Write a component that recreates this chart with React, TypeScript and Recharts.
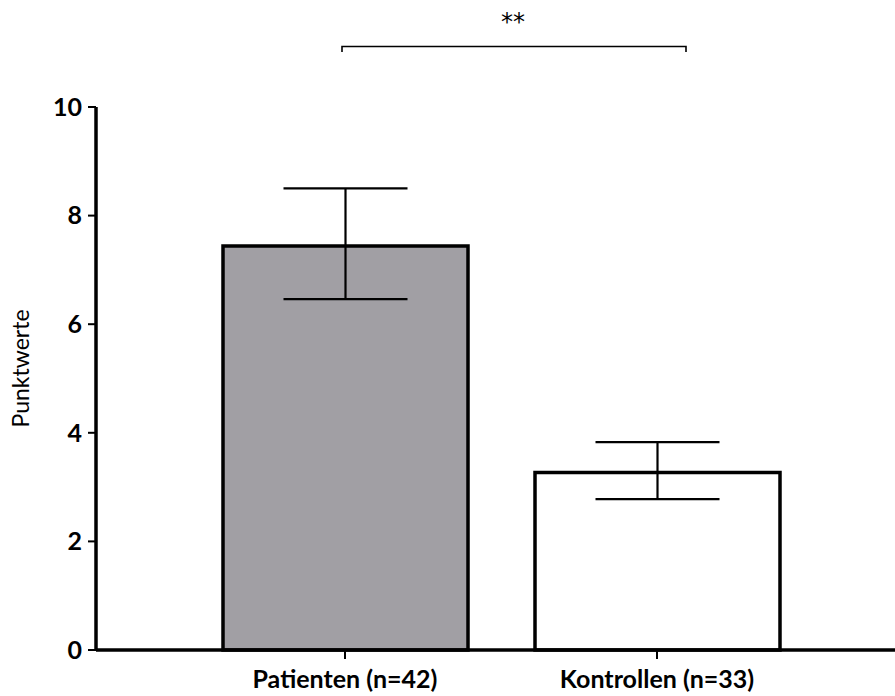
import { BarChart, Bar, XAxis, YAxis, ErrorBar, Cell } from 'recharts';

const groups = ['Patienten (n=42)', 'Kontrollen (n=33)'];
const means = [7.44, 3.27];
// [minus, plus] relative to the mean
const errors = [[0.98, 1.06], [0.49, 0.56]];
const fills = ['#a19fa4', '#ffffff'];
const yTicks = [0, 2, 4, 6, 8, 10];

const data = groups.map((g, i) => ({ name: g, value: means[i], err: errors[i] }));

const font = 'Lato, "Open Sans", sans-serif';

export default function App() {
  return (
    <div style={{ position: 'absolute', left: 0, top: 0, width: 895, height: 696, background: '#fff' }}>
      <BarChart
        width={895}
        height={696}
        data={data}
        margin={{ top: 107, right: 0, bottom: 0, left: 0 }}
      >
        <XAxis
          dataKey="name"
          height={46}
          padding={{ left: 93, right: 82 }}
          axisLine={{ stroke: '#000', strokeWidth: 3.5 }}
          tickSize={9}
          tickLine={{ stroke: '#000', strokeWidth: 2 }}
          tick={{ fill: '#000', fontSize: 25, fontWeight: 700, fontFamily: font }}
          tickMargin={11}
        />
        <YAxis
          width={96}
          domain={[0, 10]}
          ticks={yTicks}
          axisLine={{ stroke: '#000', strokeWidth: 3.5 }}
          tickSize={8}
          tickLine={{ stroke: '#000', strokeWidth: 2 }}
          tick={{ fill: '#000', fontSize: 25, fontWeight: 700, fontFamily: font }}
          tickMargin={6}
          label={{
            value: 'Punktwerte',
            angle: -90,
            position: 'insideLeft',
            dx: 16,
            dy: -10,
            style: { fill: '#000', fontSize: 23, fontFamily: font, textAnchor: 'middle' },
          }}
        />
        <Bar dataKey="value" barSize={245} stroke="#000" strokeWidth={3.5} isAnimationActive={false}>
          {data.map((d, i) => (
            <Cell key={d.name} fill={fills[i]} />
          ))}
          <ErrorBar dataKey="err" width={62} stroke="#000" strokeWidth={2.2} isAnimationActive={false} />
        </Bar>
      </BarChart>
      <svg width={895} height={80} style={{ position: 'absolute', left: 0, top: 0 }}>
        <path d="M342,52 L342,46.5 L686,46.5 L686,52" fill="none" stroke="#000" strokeWidth={1.6} />
        <text x={513} y={30} textAnchor="middle" fontSize={24} fontFamily='"DejaVu Sans", sans-serif' fill="#000">**</text>
      </svg>
    </div>
  );
}
